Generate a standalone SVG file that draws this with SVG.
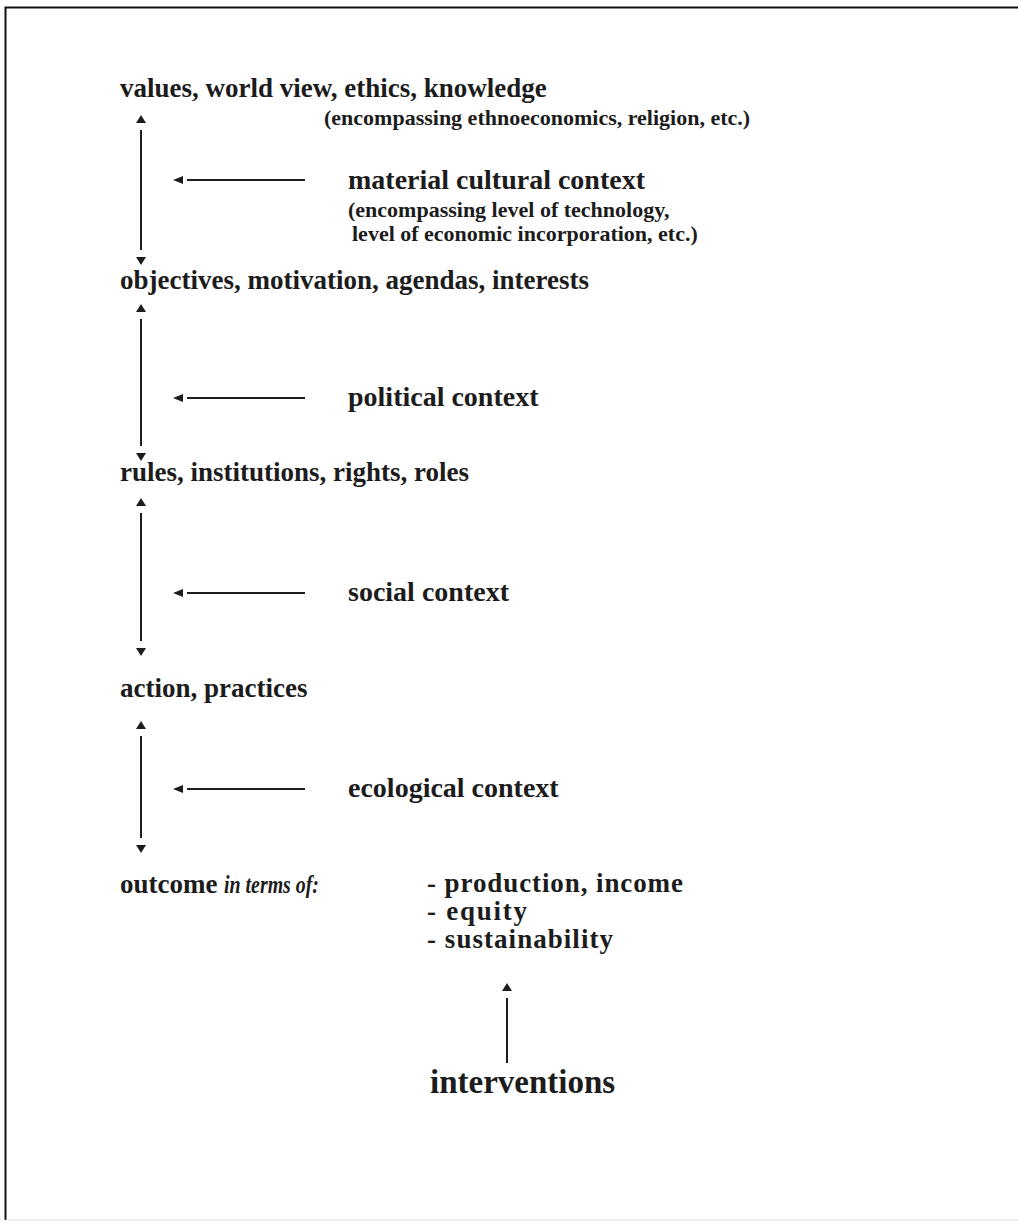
<svg xmlns="http://www.w3.org/2000/svg" width="1018" height="1223" viewBox="0 0 1018 1223">
<style>
  text { font-family: "Liberation Serif", "Times New Roman", serif; font-weight: bold; fill: #1c1c1c; }
  .main { font-size: 27px; }
  .ital { font-size: 25px; font-style: italic; }
  .ctx { font-size: 28px; }
  .note { font-size: 22px; }
  .list { font-size: 27px; }
  .big { font-size: 33px; }
  .conn { stroke: #1c1c1c; stroke-width: 2; fill: none; }
</style>
<defs>
  <marker id="tri" markerUnits="userSpaceOnUse" viewBox="0 0 16 10" refX="0" refY="5" markerWidth="16" markerHeight="10" orient="auto-start-reverse">
    <path d="M7,0 L15,5 L7,10 z" fill="#1c1c1c"/>
  </marker>
  <marker id="triH" markerUnits="userSpaceOnUse" viewBox="0 0 16 10" refX="0" refY="5" markerWidth="16" markerHeight="10" orient="auto-start-reverse">
    <path d="M4,1 L14,5 L4,9 z" fill="#1c1c1c"/>
  </marker>
</defs>
<rect x="0" y="0" width="1018" height="1223" fill="#ffffff"/>
<path d="M5.5,1220 L5.5,7.5 L1018,7.5" stroke="#111" stroke-width="2" fill="none"/>
<path d="M5.5,1220 L1018,1220" stroke="#dcdcdc" stroke-width="1" fill="none"/>

<g id="connectors">
  <line class="conn" x1="141" y1="130" x2="141" y2="250" marker-start="url(#tri)" marker-end="url(#tri)"/>
  <line class="conn" x1="305" y1="180" x2="187" y2="180" marker-end="url(#triH)"/>
  <line class="conn" x1="141" y1="319" x2="141" y2="446" marker-start="url(#tri)" marker-end="url(#tri)"/>
  <line class="conn" x1="305" y1="398" x2="187" y2="398" marker-end="url(#triH)"/>
  <line class="conn" x1="141" y1="513" x2="141" y2="641" marker-start="url(#tri)" marker-end="url(#tri)"/>
  <line class="conn" x1="305" y1="593" x2="187" y2="593" marker-end="url(#triH)"/>
  <line class="conn" x1="141" y1="736" x2="141" y2="838" marker-start="url(#tri)" marker-end="url(#tri)"/>
  <line class="conn" x1="305" y1="789" x2="187" y2="789" marker-end="url(#triH)"/>
  <line class="conn" x1="507" y1="1063" x2="507" y2="998" marker-end="url(#tri)"/>
</g>

<g id="values">
  <text class="main" x="120" y="97">values, world view, ethics, knowledge</text>
  <text class="note" x="324" y="125">(encompassing ethnoeconomics, religion, etc.)</text>
</g>
<g id="material-cultural-context">
  <text class="ctx" x="348" y="189">material cultural context</text>
  <text class="note" x="348" y="217">(encompassing level of technology,</text>
  <text class="note" x="352" y="241">level of economic incorporation, etc.)</text>
</g>
<g id="objectives">
  <text class="main" x="120" y="289">objectives, motivation, agendas, interests</text>
</g>
<g id="political-context">
  <text class="ctx" x="348" y="406">political context</text>
</g>
<g id="rules">
  <text class="main" x="120" y="481">rules, institutions, rights, roles</text>
</g>
<g id="social-context">
  <text class="ctx" x="348" y="601">social context</text>
</g>
<g id="action">
  <text class="main" x="120" y="697">action, practices</text>
</g>
<g id="ecological-context">
  <text class="ctx" x="348" y="797">ecological context</text>
</g>
<g id="outcome">
  <text class="main" x="120" y="893">outcome</text>
  <text class="ital" x="224" y="893" textLength="95" lengthAdjust="spacingAndGlyphs">in terms of:</text>
  <text class="list" x="427" y="892" textLength="256" lengthAdjust="spacing">- production, income</text>
  <text class="list" x="427" y="920" textLength="100" lengthAdjust="spacing">- equity</text>
  <text class="list" x="427" y="948" textLength="186" lengthAdjust="spacing">- sustainability</text>
</g>
<g id="interventions">
  <text class="big" x="430" y="1093">interventions</text>
</g>
</svg>
